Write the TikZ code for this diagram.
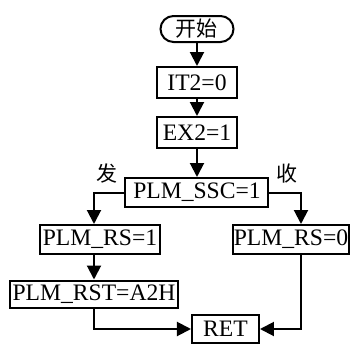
\documentclass[tikz,border=0pt]{standalone}
\usepackage{fontspec}
\setmainfont{Liberation Serif}
\newfontfamily\cjk{Noto Sans CJK SC}
\usetikzlibrary{arrows.meta,positioning}

\begin{document}
\begin{tikzpicture}[x=0.5pt,y=-0.5pt,>={Triangle[length=7pt,width=7pt]},
    every node/.style={align=center,font=\fontsize{11.8}{14}\selectfont},
    box/.style={draw,line width=1pt,inner sep=0pt},
    flow/.style={->,line width=1pt},
    zh/.style={font=\cjk\fontsize{10.5}{12}\selectfont}]
    \useasboundingbox (0,0) rectangle (355,344);
    % main column
    \node[box,zh,rounded corners=6.5pt,minimum width=36.5pt,minimum height=13pt] (start) at (197,29) {开始};
    \node[box,minimum width=40pt,minimum height=15.5pt] (it2) at (197,82.5) {IT2=0};
    \node[box,minimum width=40pt,minimum height=15.5pt] (ex2) at (197,132.5) {EX2=1};
    \node[box,minimum width=71.5pt,minimum height=14.5pt] (ssc) at (197,192.5) {PLM\_SSC=1};
    % branches
    \node[box,minimum width=60pt,minimum height=14.5pt] (rs1) at (100,239.5) {PLM\_RS=1};
    \node[box,minimum width=58pt,minimum height=14.5pt] (rs0) at (291,239.5) {PLM\_RS=0};
    \node[box,minimum width=84pt,minimum height=13.5pt] (rst) at (94,294) {PLM\_RST=A2H};
    \node[box,minimum width=33.5pt,minimum height=14pt] (ret) at (225.5,329) {RET};
    \node[zh] (send) at (107,174) {发};
    \node[zh] (recv) at (287,174) {收};
    \draw[flow] (start)--(it2); \draw[flow] (it2)--(ex2); \draw[flow] (ex2)--(ssc);
    \draw[flow] (ssc.west) -| ([xshift=-3pt]rs1.north);
    \draw[flow] (ssc.east) -| ([xshift=5pt]rs0.north);
    \draw[flow] ([xshift=-3pt]rs1.south)--(rst.north);
    \draw[flow] (rst.south) |- (ret.west);
    \draw[flow] ([xshift=5pt]rs0.south) |- (ret.east);
  \end{tikzpicture}
\end{document}
